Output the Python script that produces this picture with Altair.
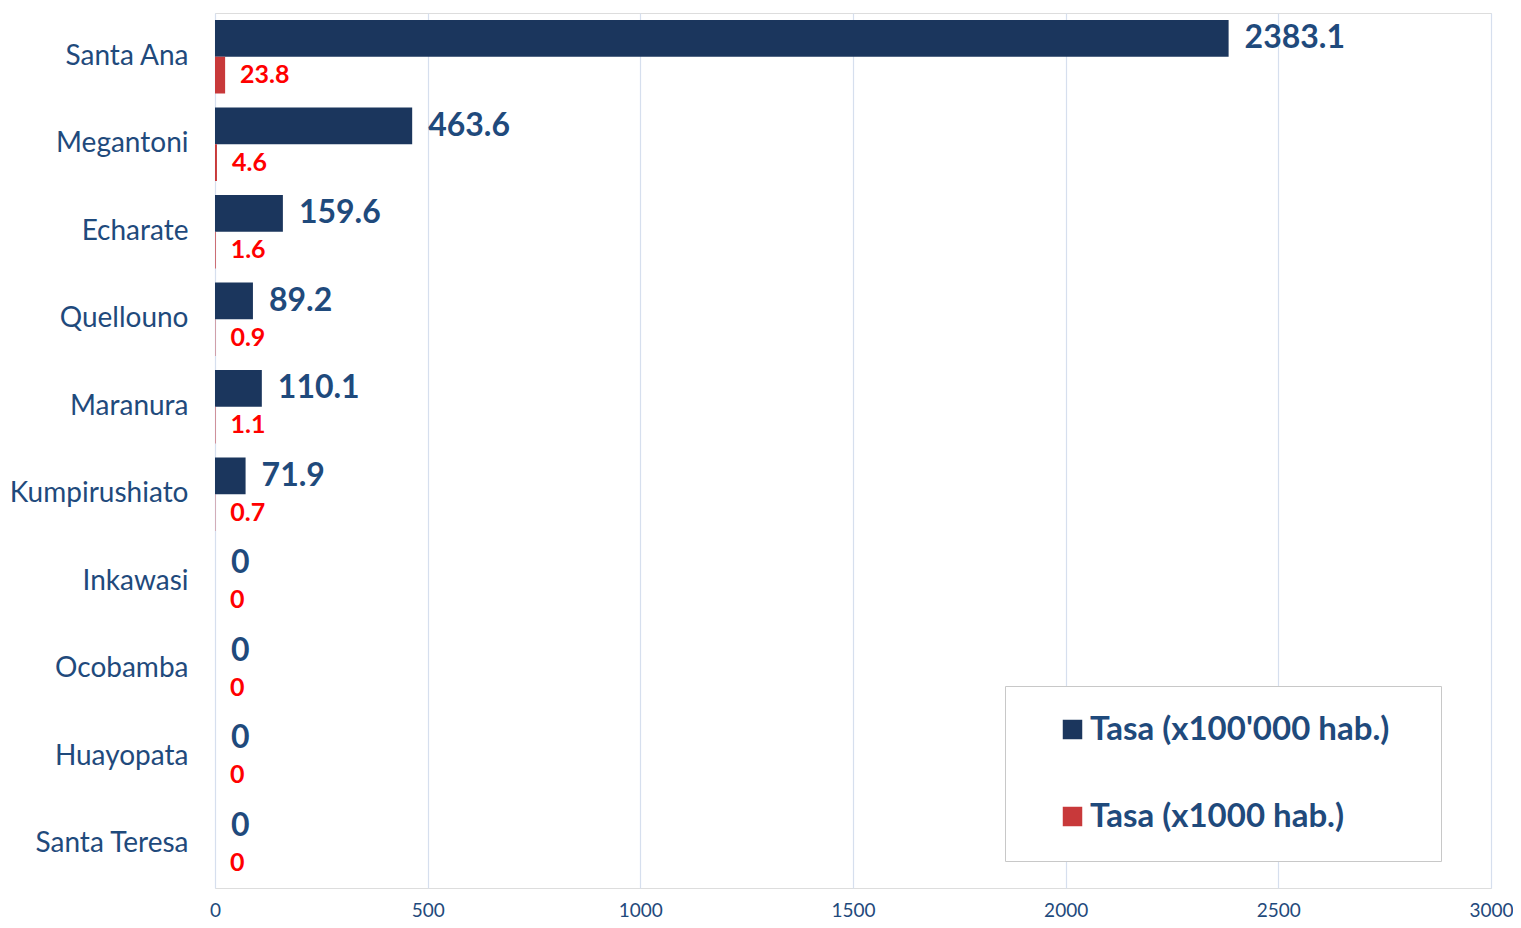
import altair as alt
import pandas as pd

districts = ["Santa Ana", "Megantoni", "Echarate", "Quellouno", "Maranura",
             "Kumpirushiato", "Inkawasi", "Ocobamba", "Huayopata", "Santa Teresa"]
rate_100k = [2383.1, 463.6, 159.6, 89.2, 110.1, 71.9, 0, 0, 0, 0]
rate_1k = [23.8, 4.6, 1.6, 0.9, 1.1, 0.7, 0, 0, 0, 0]
series_names = ["Tasa (x100'000 hab.)", "Tasa (x1000 hab.)"]
series_colors = ["#1b365d", "#c8393a"]
label_colors = ["#1f4a7c", "#ff0000"]
x_ticks = [0, 500, 1000, 1500, 2000, 2500, 3000]

def fmt(v):
    return "0" if v == 0 else f"{v:g}"

rows = []
for i, d in enumerate(districts):
    rows.append({"distrito": d, "serie": series_names[0], "valor": rate_100k[i],
                 "texto": fmt(rate_100k[i]), "orden": 0})
    rows.append({"distrito": d, "serie": series_names[1], "valor": rate_1k[i],
                 "texto": fmt(rate_1k[i]), "orden": 1})
df = pd.DataFrame(rows)

FONT = "Lato"
TXT = "#1f4a7c"

y_enc = alt.Y("distrito:N", sort=districts, title=None,
              scale=alt.Scale(paddingInner=0.16, paddingOuter=0.08),
              axis=alt.Axis(labelFontSize=28, labelColor=TXT, labelFont=FONT,
                            ticks=False, domain=False, labelPadding=27,
                            labelLimit=300))
x_enc = alt.X("valor:Q", title=None,
              scale=alt.Scale(domain=[0, 3000], nice=False),
              axis=alt.Axis(values=x_ticks, format="d", labelFontSize=19,
                            labelColor=TXT, labelFont=FONT, ticks=False,
                            domain=False, labelPadding=13, gridColor="#d6dfee",
                            gridWidth=1.2, labelFlush=False))
yoff = alt.YOffset("serie:N", sort=series_names,
                   scale=alt.Scale(paddingInner=0, paddingOuter=0))

base = alt.Chart(df)

bars = base.mark_bar().encode(
    y=y_enc, x=x_enc, yOffset=yoff,
    color=alt.Color("serie:N", sort=series_names,
                    scale=alt.Scale(domain=series_names, range=series_colors),
                    legend=alt.Legend(
                        title=None, orient="none", legendX=790, legendY=673,
                        direction="vertical", symbolType="square", symbolSize=380,
                        symbolStrokeWidth=0, labelFontSize=33, labelFont=FONT,
                        labelFontWeight="bold", labelColor=TXT, rowPadding=53,
                        padding=27, symbolOffset=24, labelOffset=1,
                        labelExpr="datum.label + '\u2800'",
                        strokeColor="#c8c8c8", fillColor="white",
                        labelLimit=600)),
)

lab_big = base.transform_filter(alt.datum.orden == 0).mark_text(
    align="left", baseline="middle", dx=16, fontSize=32, fontWeight="bold",
    font=FONT, color=label_colors[0]
).encode(y=y_enc, x=x_enc, yOffset=yoff, text="texto:N")

lab_small = base.transform_filter(alt.datum.orden == 1).mark_text(
    align="left", baseline="middle", dx=15, fontSize=25, fontWeight="bold",
    font=FONT, color=label_colors[1]
).encode(y=y_enc, x=x_enc, yOffset=yoff, text="texto:N")

chart = alt.layer(bars, lab_big, lab_small).properties(
    width=1276, height=875,
    autosize=alt.AutoSizeParams(type="none"),
    padding={"left": 207, "top": 5, "right": 22, "bottom": 32},
).configure_view(stroke="#d9d9d9", strokeWidth=1.5).configure(background="white")

chart.save("out.html", embed_options={"renderer": "svg", "actions": False})
